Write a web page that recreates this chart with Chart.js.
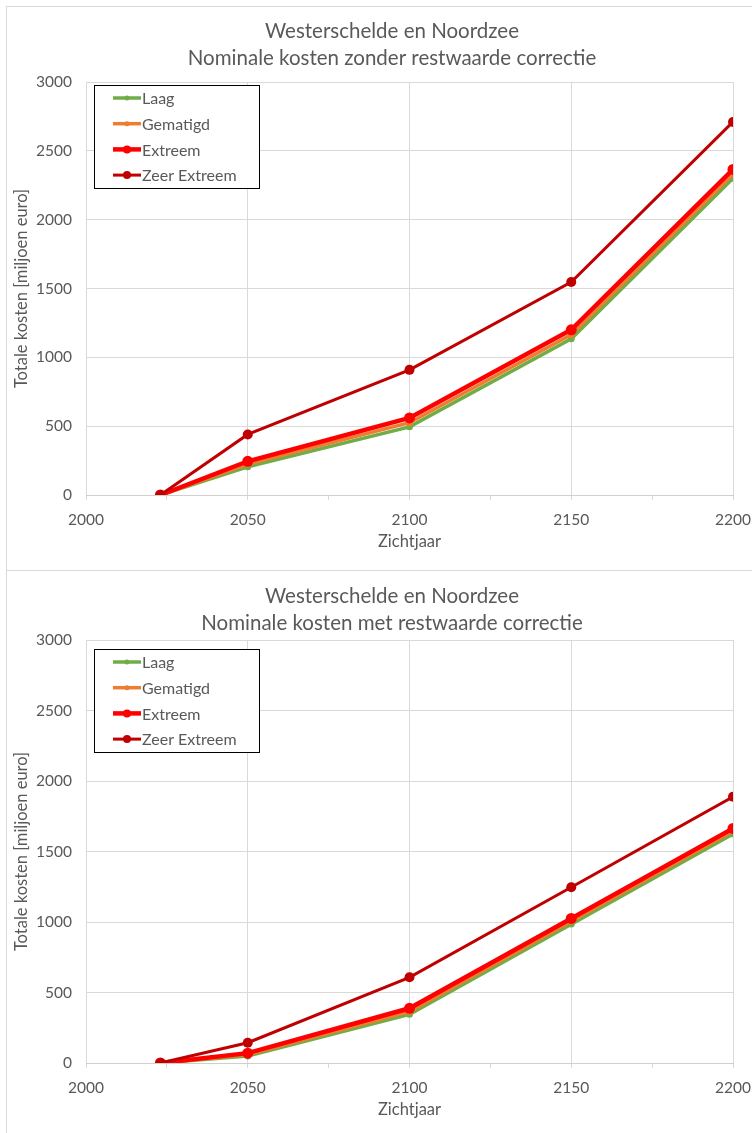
<!DOCTYPE html>
<html>
<head>
<meta charset="utf-8">
<script src="https://cdn.jsdelivr.net/npm/chart.js@4.4.1/dist/chart.umd.min.js"></script>
<style>
  html, body { margin: 0; padding: 0; background: #fff; overflow: hidden; width: 752px; height: 1133px; }
  .panel { position: absolute; left: 6px; width: 770px; border: 1px solid #d9d9d9; background: #fff; }
  #p1 { top: 6px; height: 563px; }
  #p2 { top: 570px; height: 567px; }
  canvas { display: block; }
</style>
</head>
<body>
<div class="panel" id="p1"><canvas id="c1" width="770" height="563"></canvas></div>
<div class="panel" id="p2"><canvas id="c2" width="770" height="567"></canvas></div>
<script>
// Zichtjaren (x) and scenario names
const years = [2023, 2050, 2100, 2150, 2200];
const scenarioNames = ['Laag', 'Gematigd', 'Extreem', 'Zeer Extreem'];

// Nominale kosten zonder restwaarde correctie [miljoen euro]
const zonderLaag        = [0, 205, 495, 1135, 2300];
const zonderGematigd    = [0, 225, 525, 1165, 2330];
const zonderExtreem     = [0, 245, 560, 1200, 2365];
const zonderZeerExtreem = [0, 440, 909, 1547, 2710];

// Nominale kosten met restwaarde correctie [miljoen euro]
const metLaag        = [0, 50, 345, 985, 1625];
const metGematigd    = [0, 60, 365, 1005, 1645];
const metExtreem     = [0, 70, 388, 1025, 1664];
const metZeerExtreem = [0, 144, 608, 1246, 1888];

// Axis tick values
const xTickLabels = [2000, 2050, 2100, 2150, 2200];
const yTickLabels = [0, 500, 1000, 1500, 2000, 2500, 3000];

const titleZonder = ['Westerschelde en Noordzee', 'Nominale kosten zonder restwaarde correctie'];
const titleMet = ['Westerschelde en Noordzee', 'Nominale kosten met restwaarde correctie'];
const xTitle = 'Zichtjaar';
const yTitle = 'Totale kosten [miljoen euro]';

// Line styles per scenario
const styles = [
  { color: '#70AD47', width: 3.5, radius: 3.5, legendDot: 2.5, order: 4 },
  { color: '#ED7D31', width: 3.5, radius: 3.5, legendDot: 2.5, order: 3 },
  { color: '#FF0000', width: 4.5, radius: 5.5, legendDot: 4, order: 2 },
  { color: '#C00000', width: 3,   radius: 5,   legendDot: 4, order: 1 }
];

const FONT = 'Lato';
const TEXT = '#595959';
const GRID = '#d9d9d9';

function makeDatasets(seriesList) {
  return seriesList.map((vals, i) => ({
    label: scenarioNames[i],
    data: years.map((y, k) => ({ x: y, y: vals[k] })),
    borderColor: styles[i].color,
    backgroundColor: styles[i].color,
    pointBackgroundColor: styles[i].color,
    pointBorderColor: styles[i].color,
    borderWidth: styles[i].width,
    pointRadius: styles[i].radius,
    pointBorderWidth: 0,
    legendDot: styles[i].legendDot,
    order: styles[i].order,
    tension: 0,
    fill: false
  }));
}

// Center the title over the full canvas width, not only the padded area
const fullWidthTitle = {
  id: 'fullWidthTitle',
  afterLayout(chart) {
    const t = chart.titleBlock;
    if (t) { t.left = 0; t.right = chart.width; t.width = chart.width; }
  }
};

// Boxed legend with line + marker samples, drawn over the plot
const boxLegend = {
  id: 'boxLegend',
  afterDraw(chart, args, o) {
    const ctx = chart.ctx;
    ctx.save();
    ctx.fillStyle = '#fff';
    ctx.fillRect(o.x, o.y, o.w, o.h);
    ctx.strokeStyle = '#000';
    ctx.lineWidth = 1;
    ctx.strokeRect(o.x + 0.5, o.y + 0.5, o.w, o.h);
    chart.data.datasets.forEach((ds, i) => {
      const cy = o.y + o.first + i * o.step;
      ctx.strokeStyle = ds.borderColor;
      ctx.lineWidth = ds.borderWidth;
      ctx.beginPath();
      ctx.moveTo(o.x + o.lineX, cy);
      ctx.lineTo(o.x + o.lineX + o.lineW, cy);
      ctx.stroke();
      ctx.fillStyle = ds.pointBackgroundColor;
      ctx.beginPath();
      ctx.arc(o.x + o.lineX + o.lineW / 2, cy, ds.legendDot, 0, Math.PI * 2);
      ctx.fill();
      ctx.fillStyle = TEXT;
      ctx.font = o.fontSize + 'px ' + FONT;
      ctx.textBaseline = 'middle';
      ctx.textAlign = 'left';
      ctx.fillText(ds.label, o.x + o.textX, cy + 1);
    });
    ctx.restore();
  }
};

function makeChart(canvasId, titleLines, seriesList, titlePad) {
  const plotLeft = 79, plotRightPad = 44, xAxisHeight = 75;
  return new Chart(document.getElementById(canvasId), {
    type: 'line',
    data: { datasets: makeDatasets(seriesList) },
    plugins: [fullWidthTitle, boxLegend],
    options: {
      responsive: false,
      animation: false,
      events: [],
      layout: { padding: { left: 0, right: plotRightPad, top: 0, bottom: 0 } },
      plugins: {
        legend: { display: false },
        tooltip: { enabled: false },
        title: {
          display: true,
          text: titleLines,
          color: TEXT,
          font: { family: FONT, size: 20.5, weight: 'normal', lineHeight: 27 / 20.5 },
          padding: titlePad
        },
        boxLegend: { x: 87, y: 78, w: 165, h: 103, first: 13, step: 25.7, lineX: 19, lineW: 28, textX: 48, fontSize: 16 }
      },
      scales: {
        x: {
          type: 'linear',
          min: xTickLabels[0],
          max: xTickLabels[xTickLabels.length - 1],
          afterFit(scale) { scale.height = xAxisHeight; },
          ticks: {
            stepSize: 25,
            autoSkip: false,
            maxRotation: 0,
            padding: 11,
            color: TEXT,
            font: { family: FONT, size: 15.5 },
            callback: v => xTickLabels.includes(v) ? String(v) : ''
          },
          grid: {
            color: c => (c.tick && xTickLabels.includes(c.tick.value)) ? GRID : 'rgba(0,0,0,0)',
            tickColor: GRID,
            tickLength: 5,
            lineWidth: 1
          },
          border: { display: true, color: '#cfcfcf' },
          title: {
            display: true,
            text: xTitle,
            color: TEXT,
            font: { family: FONT, size: 16.5 },
            padding: { top: 0, bottom: 18 }
          }
        },
        y: {
          min: yTickLabels[0],
          max: yTickLabels[yTickLabels.length - 1],
          afterFit(scale) { scale.width = plotLeft; },
          ticks: {
            stepSize: 500,
            padding: 14,
            color: TEXT,
            font: { family: FONT, size: 15.5 },
            callback: v => yTickLabels.includes(v) ? String(v) : ''
          },
          grid: { color: GRID, drawTicks: false, lineWidth: 1 },
          border: { display: false },
          title: {
            display: true,
            text: yTitle,
            color: TEXT,
            font: { family: FONT, size: 16.5 },
            padding: { top: 5, bottom: 0 }
          }
        }
      }
    }
  });
}

makeChart('c1', titleZonder, [zonderLaag, zonderGematigd, zonderExtreem, zonderZeerExtreem], { top: 11, bottom: 10 });
makeChart('c2', titleMet, [metLaag, metGematigd, metExtreem, metZeerExtreem], { top: 12, bottom: 3 });
</script>
</body>
</html>
